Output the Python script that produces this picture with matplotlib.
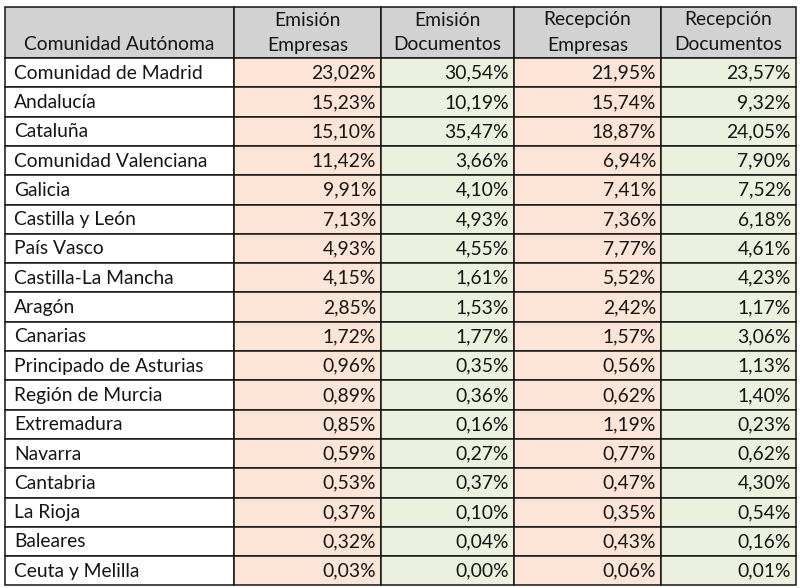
import matplotlib
matplotlib.use("Agg")
import matplotlib.pyplot as plt
from matplotlib.patches import Rectangle

regions = ["Comunidad de Madrid", "Andalucía", "Cataluña", "Comunidad Valenciana",
           "Galicia", "Castilla y León", "País Vasco", "Castilla-La Mancha", "Aragón",
           "Canarias", "Principado de Asturias", "Región de Murcia", "Extremadura",
           "Navarra", "Cantabria", "La Rioja", "Baleares", "Ceuta y Melilla"]
emision_empresas = [23.02, 15.23, 15.10, 11.42, 9.91, 7.13, 4.93, 4.15, 2.85, 1.72,
                    0.96, 0.89, 0.85, 0.59, 0.53, 0.37, 0.32, 0.03]
emision_documentos = [30.54, 10.19, 35.47, 3.66, 4.10, 4.93, 4.55, 1.61, 1.53, 1.77,
                      0.35, 0.36, 0.16, 0.27, 0.37, 0.10, 0.04, 0.00]
recepcion_empresas = [21.95, 15.74, 18.87, 6.94, 7.41, 7.36, 7.77, 5.52, 2.42, 1.57,
                      0.56, 0.62, 1.19, 0.77, 0.47, 0.35, 0.43, 0.06]
recepcion_documentos = [23.57, 9.32, 24.05, 7.90, 7.52, 6.18, 4.61, 4.23, 1.17, 3.06,
                        1.13, 1.40, 0.23, 0.62, 4.30, 0.54, 0.16, 0.01]
headers = ["Comunidad Autónoma", "Emisión\nEmpresas", "Emisión\nDocumentos",
           "Recepción\nEmpresas", "Recepción\nDocumentos"]

plt.rcParams['font.family'] = ['Lato', 'DejaVu Sans']

fig = plt.figure(figsize=(8.0, 5.88), dpi=100)
ax = fig.add_axes([0, 0, 1, 1])
ax.set_xlim(0, 800)
ax.set_ylim(588, 0)
ax.axis("off")

col_edges = [5, 234, 381, 514, 661, 796]
top = 7
header_bottom = 58
row_h = 29.3
fs = 13.9
txt_color = "#151515"
line_color = "#151515"
header_fill = "#D2D2D2"
fills = ["#FFFFFF", "#FCE4D6", "#EBF1DE", "#FCE4D6", "#EBF1DE"]
columns = [regions, emision_empresas, emision_documentos, recepcion_empresas, recepcion_documentos]

def fmt(v):
    return f"{v:.2f}".replace(".", ",") + "%"

# header
for c in range(5):
    x0, x1 = col_edges[c], col_edges[c + 1]
    ax.add_patch(Rectangle((x0, top), x1 - x0, header_bottom - top, facecolor=header_fill,
                           edgecolor=line_color, linewidth=1.1))
    if c == 0:
        ax.text((x0 + x1) / 2, 45, headers[c], ha="center", va="center", fontsize=fs, color=txt_color)
    else:
        l1, l2 = headers[c].split("\n")
        ax.text((x0 + x1) / 2, 20, l1, ha="center", va="center", fontsize=fs, color=txt_color)
        ax.text((x0 + x1) / 2, 45, l2, ha="center", va="center", fontsize=fs, color=txt_color)

# body
n = len(regions)
for r in range(n):
    y0 = header_bottom + r * row_h
    yc = y0 + row_h / 2 + 0.5
    for c in range(5):
        x0, x1 = col_edges[c], col_edges[c + 1]
        ax.add_patch(Rectangle((x0, y0), x1 - x0, row_h, facecolor=fills[c],
                               edgecolor=line_color, linewidth=1.1))
        if c == 0:
            ax.text(x0 + 9, yc, columns[c][r], ha="left", va="center", fontsize=fs, color=txt_color)
        else:
            ax.text(x1 - 5, yc, fmt(columns[c][r]), ha="right", va="center", fontsize=fs, color=txt_color)

fig.savefig("out.png", dpi=100, facecolor="white")
